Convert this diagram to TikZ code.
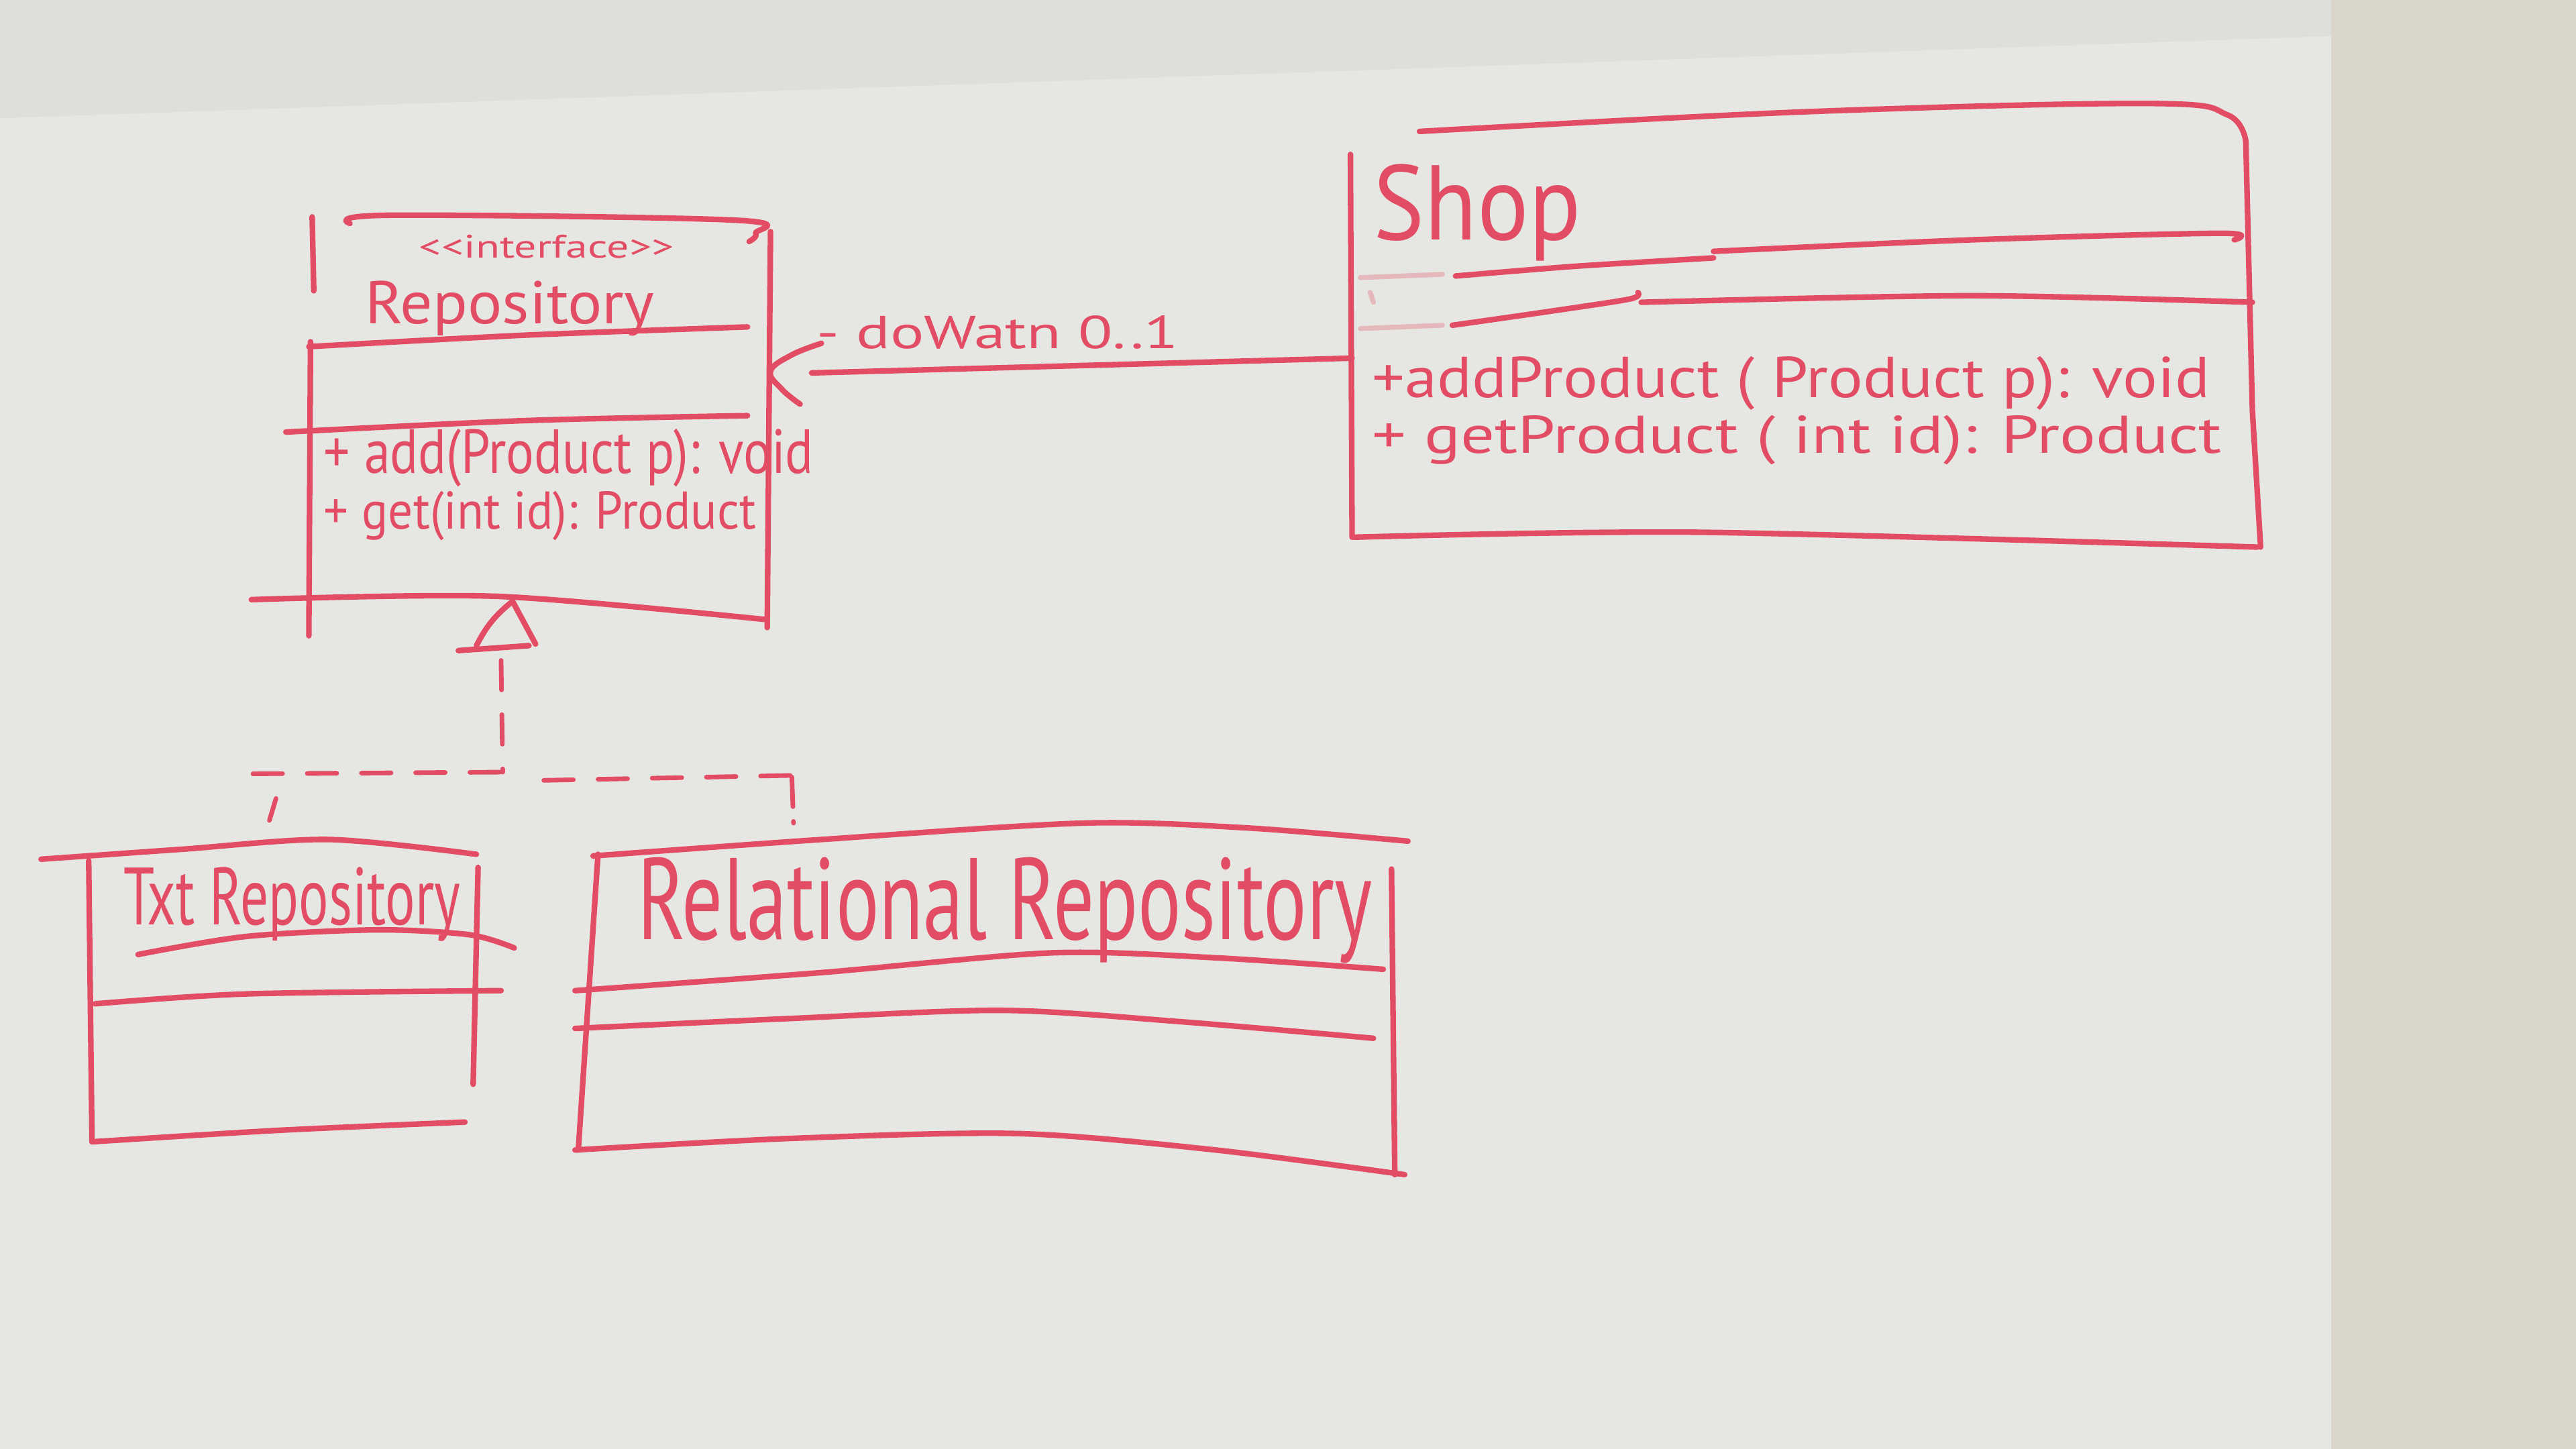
\documentclass[tikz,border=0pt]{standalone}
\usepackage{fontspec}
\setmainfont{PT Sans}
\usepackage{graphicx}
\usetikzlibrary{arrows.meta}

\definecolor{board}{RGB}{230,231,226}
\definecolor{wall}{RGB}{222,223,217}
\definecolor{wallside}{RGB}{217,213,203}
\definecolor{ink}{RGB}{226,76,100}

\tikzset{
  pen/.style={draw=ink, line width=3.4pt, line cap=round, line join=round},
  faint/.style={draw=ink!30!board, line width=3pt, line cap=round},
  realize/.style={pen, line width=2.8pt, dash pattern=on 18pt off 15pt},
  lbl/.style={anchor=base west, inner sep=0pt, text=ink},
}
% scale a piece of text to a given width and height (in pt)
\newcommand{\inkfit}[3]{\resizebox{#1pt}{#2pt}{#3}}

\begin{document}
\begin{tikzpicture}[x=1pt,y=-1pt]
\useasboundingbox (0,0) rectangle (1568,882);

% wall and whiteboard
\fill[wall] (0,0) rectangle (1568,882);
\fill[wallside] (1419,0) rectangle (1568,882);
\fill[board] (0,72) -- (1419,22) -- (1419,882) -- (0,882) -- cycle;

% ---------- Repository (interface) ----------
\draw[pen] (190,132) -- (191,177);
\draw[pen] (189,208) -- (188,387);
\draw[pen] plot[smooth, tension=0.6] coordinates {(213,136) (238,131) (447,134) (460,142) (456,147)};
\draw[pen] (469,141) -- (467,382);
\draw[pen] plot[smooth] coordinates {(188,211) (320,204) (455,199)};
\draw[pen] plot[smooth] coordinates {(174,263) (320,256) (455,253)};
\draw[pen] plot[smooth] coordinates {(153,365) (303,363) (465,377)};

\node[lbl] (repoStereo) at (255,157) {\inkfit{155}{14}{<{}<interface>{}>}};
\node[lbl] (repoName)   at (222,197) {\inkfit{176}{26}{Repository}};
\node[lbl] (repoOp1)    at (197,288) {\inkfit{298}{27}{+ add(Product p): void}};
\node[lbl] (repoOp2)    at (197,322) {\inkfit{263}{23}{+ get(int id): Product}};

% ---------- Shop ----------
\draw[pen] plot[smooth, tension=0.6] coordinates {(864,80) (1100,68) (1309,63) (1356,70) (1367,86)};
\draw[pen] (1367,86) -- (1371,250) -- (1376,333);
\draw[pen] (822,94) -- (823,327);
\draw[pen] plot[smooth] coordinates {(886,168) (960,162) (1043,157)};
\draw[pen] plot[smooth] coordinates {(1043,153) (1200,146) (1352,142) (1360,146)};
\draw[faint] (828,169) -- (878,167);
\draw[pen] plot[smooth] coordinates {(884,198) (940,190) (992,182) (997,178)};
\draw[pen] plot[smooth] coordinates {(999,184) (1200,180) (1371,184)};
\draw[faint] (828,200) -- (878,198);
\draw[faint] (834,178) -- (836,184);
\draw[pen] plot[smooth] coordinates {(824,327) (1035,324) (1374,333)};

\node[lbl] (shopName) at (836,146) {\inkfit{126}{46}{Shop}};
\node[lbl] (shopOp1)  at (835,242) {\inkfit{510}{25}{+addProduct ( Product p): void}};
\node[lbl] (shopOp2)  at (835,276) {\inkfit{517}{23}{+ getProduct ( int id): Product}};

% ---------- association Shop -> Repository ----------
\coordinate (shopL) at (823,218);
\coordinate (assocEnd) at (494,227);
\coordinate (repoR) at (469,226);
\draw[pen] (shopL) -- (assocEnd);
\draw[pen] plot[smooth, tension=0.7] coordinates {(500,209) (482,216) (repoR) (476,237) (487,246)};
\node[lbl] (assocLbl) at (497,212) {\inkfit{220}{20}{- doWatn 0..1}};

% ---------- realization ----------
\coordinate (genApex) at (312,366);
\coordinate (genBase) at (305,396);
\coordinate (genJoin) at (306,470);
\draw[pen] (290,393) to[bend left=12] (genApex) -- (326,392);
\draw[pen] (279,396) -- (322,393);
\draw[realize] (genBase) ++(0,6) -- (genJoin);
\draw[realize] (154,471) -- (genJoin);
\draw[realize] (331,475) -- (482,472);
\draw[realize, dash pattern=on 14pt off 8pt] (168,486) -- (162,506);
\draw[realize, dash pattern=on 18pt off 9pt] (482,473) -- (483,501);

% ---------- Txt Repository ----------
\draw[pen] plot[smooth] coordinates {(25,523) (110,517) (200,511) (290,520)};
\draw[pen] (54,524) -- (56,695);
\draw[pen] (291,528) -- (288,660);
\draw[pen] plot[smooth] coordinates {(84,581) (150,570) (230,566) (286,569) (313,577)};
\draw[pen] plot[smooth] coordinates {(58,611) (150,605) (305,603)};
\draw[pen] plot[smooth] coordinates {(56,695) (170,688) (283,683)};
\node[lbl] (txtName) at (75,563) {\inkfit{205}{35}{Txt Repository}};

% ---------- Relational Repository ----------
\draw[pen] plot[smooth] coordinates {(361,521) (500,511) (660,501) (760,504) (857,512)};
\draw[pen] (364,520) -- (352,700);
\draw[pen] (847,529) -- (849,715);
\draw[pen] plot[smooth] coordinates {(350,603) (500,592) (640,580) (740,583) (842,590)};
\draw[pen] plot[smooth] coordinates {(350,626) (480,620) (610,615) (720,622) (836,632)};
\draw[pen] plot[smooth] coordinates {(350,700) (480,693) (620,690) (740,700) (855,715)};
\node[lbl] (relName) at (388,572) {\inkfit{447}{50}{Relational Repository}};

\end{tikzpicture}
\end{document}
